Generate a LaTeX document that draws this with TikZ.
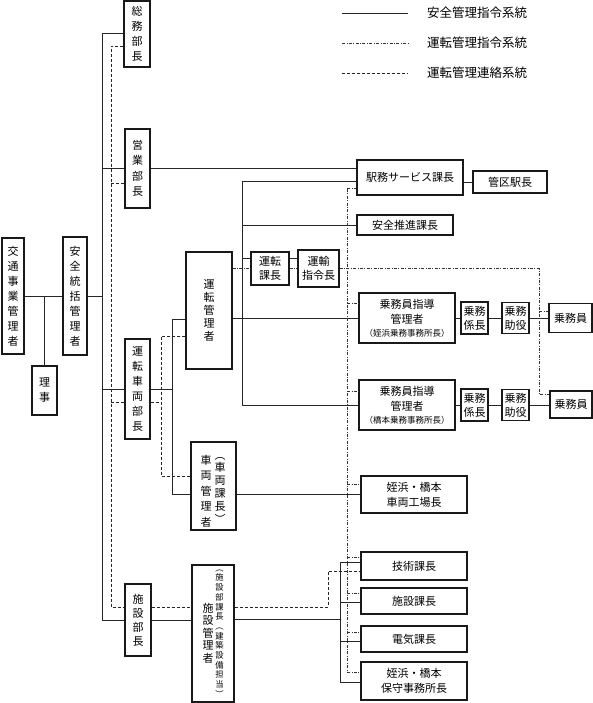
\documentclass[tikz,border=0pt]{standalone}
\usepackage{fontspec}
\setmainfont{Noto Sans CJK JP}
\usetikzlibrary{calc}
\begin{document}
\begin{tikzpicture}[x=1pt,y=-1pt,
  box/.style={draw=black!90, line width=1.1pt, inner sep=0pt, align=center, font=\fontsize{11}{15}\selectfont},
  txt/.style={inner sep=0pt, align=center},
  sl/.style={draw=black!85, line width=0.8pt},
  dl/.style={draw=black!85, line width=0.8pt, dash pattern=on 3pt off 2pt},
  ddl/.style={draw=black!80, line width=0.6pt, dash pattern=on 3pt off 1.5pt on 0.8pt off 1.5pt},
  leg/.style={anchor=west, inner sep=0pt, font=\fontsize{12.5}{14}\selectfont},
]
\useasboundingbox (0,0) rectangle (593,703);

% ---------- boxes ----------
\node[box, minimum width=22pt, minimum height=116pt] (kotsu) at (13,296) {交\\通\\事\\業\\管\\理\\者};
\node[box, minimum width=24pt, minimum height=118pt] (anzen) at (75,296) {安\\全\\統\\括\\管\\理\\者};
\node[box, minimum width=25pt, minimum height=49pt] (riji) at (44.5,390.5) {理\\事};
\node[box, minimum width=26pt, minimum height=66pt] (somu) at (137,34) {総\\務\\部\\長};
\node[box, minimum width=25pt, minimum height=79pt, font=\fontsize{11}{15.5}\selectfont] (eigyo) at (137.5,168.5) {営\\業\\部\\長};
\node[box, minimum width=25pt, minimum height=100pt] (untensharyo) at (137.5,389) {運\\転\\車\\両\\部\\長};
\node[box, minimum width=26pt, minimum height=72pt, font=\fontsize{11}{14}\selectfont] (shisetsubu) at (138,620) {施\\設\\部\\長};

\node[box, minimum width=46pt, minimum height=117pt, font=\fontsize{11}{13}\selectfont] (untenkanri) at (209,310.5) {運\\転\\管\\理\\者};
\node[box, minimum width=45pt, minimum height=88pt] (sharyokanri) at (213.5,486) {};
\node[txt, font=\fontsize{11}{15.5}\selectfont] (sharyoL) at (206,491) {車\\両\\管\\理\\者};
\node[txt, font=\fontsize{11}{12.8}\selectfont] (sharyoR) at (220,490) {︵\\車\\両\\課\\長\\︶};
\node[box, minimum width=42pt, minimum height=137pt] (shisetsukanri) at (213,633.5) {};
\node[txt, font=\fontsize{11}{12.5}\selectfont] (shisetsuL) at (208,633) {施\\設\\管\\理\\者};
\node[txt, font=\fontsize{8.3}{9.7}\selectfont] (shisetsuR) at (219.5,633.5) {︵\\施\\設\\部\\課\\長\\︵\\建\\築\\設\\備\\担\\当\\︶};

\node[box, minimum width=38pt, minimum height=33pt, font=\fontsize{11}{14}\selectfont] (untenka) at (270,268.5) {運転\\課長};
\node[box, minimum width=41pt, minimum height=37pt, font=\fontsize{11}{14}\selectfont] (yuso) at (318.5,268.5) {運輸\\指令長};

\node[box, minimum width=106pt, minimum height=35pt] (ekimu) at (410,177.5) {駅務サービス課長};
\node[box, minimum width=74pt, minimum height=22pt] (kanku) at (510,182) {管区駅長};
\node[box, minimum width=96pt, minimum height=20pt] (anzensuishin) at (405,225) {安全推進課長};

\node[box, minimum width=96pt, minimum height=50pt] (jomu1) at (407,318) {乗務員指導\\管理者\\[-2pt]{\fontsize{8.5}{9}\selectfont （姪浜乗務事務所長）}};
\node[box, minimum width=27pt, minimum height=32pt, font=\fontsize{11}{14}\selectfont] (kakari1) at (474.5,318) {乗務\\係長};
\node[box, minimum width=27pt, minimum height=31pt, font=\fontsize{11}{14}\selectfont] (joyaku1) at (515.5,318) {乗務\\助役};
\node[box, minimum width=43pt, minimum height=29pt] (jomuin1) at (570.5,318) {乗務員};

\node[box, minimum width=96pt, minimum height=50pt] (jomu2) at (407,405) {乗務員指導\\管理者\\[-2pt]{\fontsize{8.5}{9}\selectfont （橋本乗務事務所長）}};
\node[box, minimum width=27pt, minimum height=32pt, font=\fontsize{11}{14}\selectfont] (kakari2) at (474.5,405) {乗務\\係長};
\node[box, minimum width=27pt, minimum height=31pt, font=\fontsize{11}{14}\selectfont] (joyaku2) at (515.5,405) {乗務\\助役};
\node[box, minimum width=42pt, minimum height=27pt] (jomuin2) at (571,404.5) {乗務員};

\node[box, minimum width=106pt, minimum height=37pt] (kojo) at (414,494.5) {姪浜・橋本\\車両工場長};
\node[box, minimum width=106pt, minimum height=28pt] (gijutsu) at (414,566) {技術課長};
\node[box, minimum width=106pt, minimum height=26pt] (shisetsuka) at (414,601) {施設課長};
\node[box, minimum width=106pt, minimum height=26pt] (denki) at (414,639) {電気課長};
\node[box, minimum width=106pt, minimum height=38pt] (hoshu) at (414,681) {姪浜・橋本\\保守事務所長};

% ---------- legend ----------
\coordinate (l1a) at (342,13); \coordinate (l1b) at (408,13);
\coordinate (l2a) at (342,43); \coordinate (l2b) at (408,43);
\coordinate (l3a) at (342,73); \coordinate (l3b) at (408,73);
\draw[sl] (l1a) -- (l1b);
\draw[ddl] (l2a) -- (l2b);
\draw[dl] (l3a) -- (l3b);
\node[leg] (lt1) at (427,13) {安全管理指令系統};
\node[leg] (lt2) at (427,43) {運転管理指令系統};
\node[leg] (lt3) at (427,73) {運転管理連絡系統};

% ---------- solid lines ----------
\draw[sl] (kotsu.east) -- (anzen.west);
\draw[sl] (riji.north) -- (riji.north |- kotsu.east);
\coordinate (mtop) at (102,33);
\draw[sl] (anzen.east) -- (anzen.east -| mtop);
\draw[sl] (mtop) -- (shisetsubu.west -| mtop) -- (shisetsubu.west);
\draw[sl] (mtop) -- (mtop -| somu.west);
\draw[sl] (eigyo.west -| mtop) -- (eigyo.west);
\draw[sl] (eigyo.east) -- (eigyo.east -| ekimu.west);
\draw[sl] (untensharyo.west -| mtop) -- (untensharyo.west);
\coordinate (v1t) at (172,319); \coordinate (v1b) at (172,494);
\draw[sl] (untensharyo.east) -- (untensharyo.east -| v1t);
\draw[sl] (v1t) -- (v1b);
\draw[sl] (v1t) -- (v1t -| untenkanri.west);
\draw[sl] (v1b) -- (v1b -| sharyokanri.west);
\draw[sl] (v1b -| sharyokanri.east) -- (v1b -| kojo.west);

\coordinate (v2t) at (242,181); \coordinate (v2b) at (242,405);
\draw[sl] (v2t) -- (v2b);
\draw[sl] (v2t) -- (v2t -| ekimu.west);
\draw[sl] (anzensuishin.west -| v2t) -- (anzensuishin.west);
\coordinate (r258) at (242,258);
\draw[sl] (r258) -- (r258 -| untenka.west);
\draw[sl] (r258 -| untenka.east) -- (r258 -| yuso.west);
\draw[sl] (untenkanri.east |- jomu1.west) -- (jomu1.west);
\draw[sl] (v2b) -- (jomu2.west);
\draw[sl] (jomu1.east) -- (kakari1.west);
\draw[sl] (kakari1.east) -- (joyaku1.west);
\draw[sl] (joyaku1.east) -- (jomuin1.west);
\draw[sl] (jomu2.east) -- (kakari2.west);
\draw[sl] (kakari2.east) -- (joyaku2.west);
\draw[sl] (joyaku2.east) -- (jomuin2.west |- joyaku2.east);
\draw[sl] (kanku.west -| ekimu.east) -- (kanku.west);

\draw[sl] (shisetsubu.east) -- (shisetsubu.east -| shisetsukanri.west);
\coordinate (v3) at (340,619);
\draw[sl] (shisetsukanri.east |- v3) -- (v3);
\coordinate (g1) at ($(gijutsu.north west)+(0,11)$);
\coordinate (g2) at ($(shisetsuka.north west)+(0,15)$);
\coordinate (g3) at ($(denki.north west)+(0,16)$);
\coordinate (g4) at ($(hoshu.north west)+(0,21)$);
\draw[sl] (g1 -| v3) -- (g4 -| v3);
\draw[sl] (g1 -| v3) -- (g1);
\draw[sl] (g2 -| v3) -- (g2);
\draw[sl] (g3 -| v3) -- (g3);
\draw[sl] (g4 -| v3) -- (g4);

% ---------- dash-dot lines ----------
\draw[ddl] (untenkanri.east |- untenka.west) -- (untenka.west);
\draw[ddl] (untenka.east) -- (yuso.west);
\coordinate (dr) at (539,268.5); \coordinate (drb) at (539,394); \coordinate (dr1) at (539,311);
\draw[ddl] (yuso.east) -- (dr) -- (drb) -- (drb -| jomuin2.west);
\draw[ddl] (dr1) -- (dr1 -| jomuin1.west);
\coordinate (dv) at (347,189);
\coordinate (t1) at ($(ekimu.north west)+(0,29)$);
\coordinate (t2) at ($(jomu1.north west)+(0,11)$);
\coordinate (t3) at ($(jomu2.north west)+(0,12)$);
\coordinate (t4) at ($(kojo.north west)+(0,9)$);
\coordinate (t5) at ($(gijutsu.north west)+(0,6)$);
\coordinate (t6) at ($(shisetsuka.north west)+(0,6)$);
\coordinate (t7) at ($(denki.north west)+(0,7)$);
\coordinate (t8) at ($(hoshu.north west)+(0,11)$);
\draw[ddl] (dv) -- (t8 -| dv);
\foreach \t in {t1,t2,t3,t4,t5,t6,t7,t8} { \draw[ddl] (\t -| dv) -- (\t); }

% ---------- dashed lines ----------
\coordinate (dt) at (111,46); \coordinate (db) at (111,607);
\draw[dl] (dt -| somu.west) -- (dt) -- (db) -- (db -| shisetsubu.west);
\coordinate (de) at (111,183);
\draw[dl] (de) -- (de -| eigyo.west);
\coordinate (du) at (111,402);
\coordinate (dvt) at (161,336); \coordinate (dvb) at (161,476);
\draw[dl] (du) -- (du -| untensharyo.west);
\draw[dl] (du -| untensharyo.east) -- (du -| dvt);
\draw[dl] (dvt -| untenkanri.west) -- (dvt) -- (dvb) -- (dvb -| sharyokanri.west);
\draw[dl] (db -| shisetsubu.east) -- (db -| shisetsukanri.west);
\coordinate (dg1) at (328,607); \coordinate (dg2) at (328,571);
\draw[dl] (db -| shisetsukanri.east) -- (dg1) -- (dg2) -- (dg2 -| gijutsu.west);
\end{tikzpicture}
\end{document}
